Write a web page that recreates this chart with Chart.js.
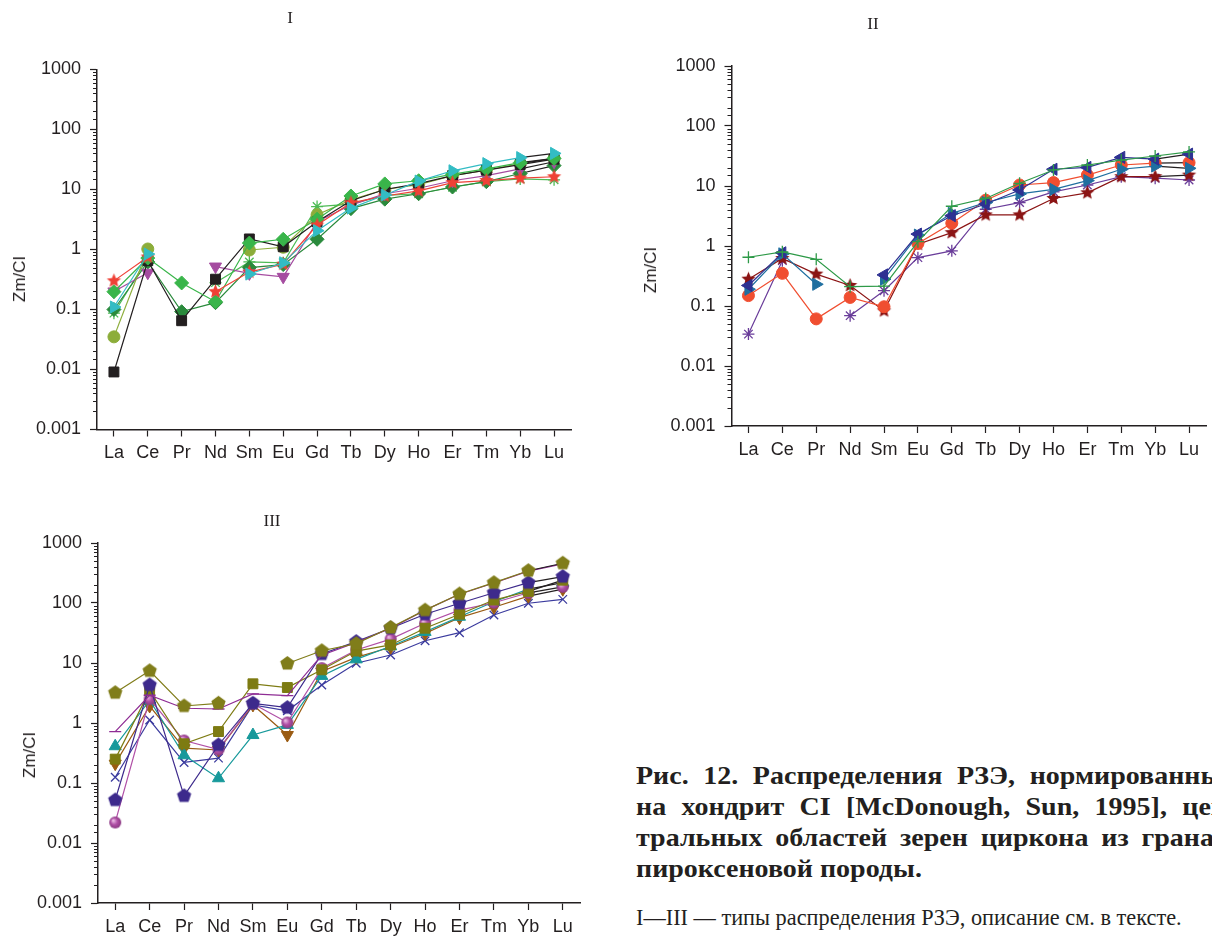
<!DOCTYPE html>
<html><head><meta charset="utf-8">
<script src="https://cdn.jsdelivr.net/npm/chart.js@4.4.1/dist/chart.umd.min.js"></script>
<style>
html,body{margin:0;padding:0;background:#fff;}
body{width:1212px;height:936px;position:relative;overflow:hidden;}
canvas{position:absolute;}
.t{position:absolute;font-family:"Liberation Serif","Times New Roman",serif;color:#231f20;white-space:nowrap;font-size:17px;transform:translate(-50%,-50%);}
.yl{position:absolute;font-family:"Liberation Sans",Arial,sans-serif;font-size:17px;color:#231f20;white-space:nowrap;transform:translate(-50%,-50%) rotate(-90deg);}
.cap{position:absolute;left:636px;width:536px;font-family:"Liberation Serif","Times New Roman",serif;font-weight:bold;font-size:25px;line-height:31px;color:#231f20;white-space:nowrap;transform:scaleX(1.12);transform-origin:0 0;}
.j{text-align:justify;text-align-last:justify;}
.note{position:absolute;left:636px;top:906px;font-family:"Liberation Serif","Times New Roman",serif;font-size:22.3px;line-height:24px;color:#231f20;white-space:nowrap;}
</style></head><body>
<canvas id="c1" width="600" height="480" style="left:0;top:0"></canvas>
<canvas id="c2" width="592" height="480" style="left:620px;top:0"></canvas>
<canvas id="c3" width="600" height="446" style="left:0;top:490px"></canvas>

<div class="t" style="left:290px;top:18px">I</div>
<div class="t" style="left:873px;top:24px">II</div>
<div class="t" style="left:272px;top:521px">III</div>
<div class="yl" style="left:20px;top:279px">Zm/CI</div>
<div class="yl" style="left:651px;top:270px">Zm/CI</div>
<div class="yl" style="left:30px;top:755px">Zm/CI</div>

<div class="cap j" style="top:760px">Рис. 12. Распределения РЗЭ, нормированных</div>
<div class="cap j" style="top:791px">на хондрит CI [McDonough, Sun, 1995], цен-</div>
<div class="cap j" style="top:822px">тральных областей зерен циркона из гранат-</div>
<div class="cap" style="top:853px">пироксеновой породы.</div>
<div class="note">I—III — типы распределения РЗЭ, описание см. в тексте.</div>

<script>
const elements = ['La','Ce','Pr','Nd','Sm','Eu','Gd','Tb','Dy','Ho','Er','Tm','Yb','Lu'];
const yTickLabels = ['0.001','0.01','0.1','1','10','100','1000'];

// Panel I
const I_black        = [0.0091,0.65,0.065,0.32,1.5,1.11,2.9,6.5,10,12.5,17,21,26,32];
const I_redStar      = [0.30,0.75,null,0.198,0.42,0.57,2.56,6.0,7.8,9.5,13,14.1,15.5,16.3];
const I_greenDiamond = [0.198,0.72,0.277,0.135,1.28,1.48,3.2,7.8,12.4,14,18,22,28,33];
const I_darkDiamond  = [0.1,0.62,0.092,0.13,0.5,0.56,1.48,4.8,6.9,8.5,11,13.5,18.5,25];
const I_oliveCircle  = [0.035,1.02,null,null,0.98,1.09,3.8,6.7,10,12,17,21,27,33];
const I_purpleTri    = [0.2,0.41,null,0.52,0.4,0.35,2.9,5.5,8.5,10.5,14,17,22,29];
const I_cyanTri      = [0.11,0.84,null,null,0.39,0.6,2.06,4.9,8.1,13.8,20.5,27,34,40];
const I_asterisk     = [0.087,0.72,null,0.28,0.62,0.6,5.2,5.7,8,8.5,10.9,13.5,15,14.5];

// Panel II
const II_greenPlus   = [0.65,0.80,0.60,0.21,0.215,1.18,4.6,6.2,11.1,18.5,22.4,27,31.6,37];
const II_redCircle   = [0.149,0.35,0.061,0.139,0.097,1.1,2.4,5.8,10.4,11.4,15.2,22.4,24,24.5];
const II_darkRedStar = [0.28,0.62,0.34,0.22,0.083,1.07,1.67,3.3,3.3,6.2,7.7,14.3,14.3,15.2];
const II_purpleAst   = [0.034,0.57,null,0.069,0.18,0.64,0.83,4.1,5.3,8.0,10.4,14.3,13.5,12.6];
const II_tealTri     = [0.19,0.74,0.23,null,0.28,1.52,3.5,5.3,7.4,8.8,12.3,19,21.5,19.7];
const II_navyTri     = [0.22,0.77,null,null,0.33,1.58,3.2,5.0,8.6,19,20.4,30,28,34];

// Panel III
const III_olivePent  = [3.2,7.4,1.92,2.13,null,9.8,16,21,39,76,141,218,345,460];
const III_purpleLine = [0.72,2.9,1.76,1.71,3.05,2.85,13.5,22,38,76,140,215,340,450];
const III_navyPent   = [0.052,4.3,0.061,0.43,2.13,1.8,14.1,22.7,38,65,99,148,218,275];
const III_oliveSq    = [0.25,3.45,0.45,0.72,4.5,3.9,7.7,15.8,20,38,65,112,156,240];
const III_pinkCircle = [0.022,2.5,0.51,0.36,2.1,1.02,8.2,16.5,25,46,76,101,148,186];
const III_tealTri    = [0.41,2.4,0.29,0.12,0.63,0.93,6.1,11.5,19,33,59,105,170,218];
const III_brownTri   = [0.21,1.92,0.38,0.355,2.0,0.63,7.2,12.4,18.3,31,57,85,130,170];
const III_blueX      = [0.125,1.12,0.22,0.26,2.0,1.6,4.3,9.9,13.6,23.5,32,63,99,115];

const INK = '#231f20';
const FONT = '"Liberation Sans", Arial, sans-serif';

function polyImg(color, r, n, inner, rot) {
  const s = Math.ceil(2*r+2);
  const c = document.createElement('canvas'); c.width = s; c.height = s;
  const g = c.getContext('2d');
  g.fillStyle = color; g.beginPath();
  const pts = inner ? n*2 : n;
  for (let i=0;i<pts;i++){
    const rr = inner ? (i%2===0 ? r : r*inner) : r;
    const a = -Math.PI/2 + (rot||0) + i*2*Math.PI/pts;
    const x = s/2 + rr*Math.cos(a), y = s/2 + rr*Math.sin(a);
    i===0 ? g.moveTo(x,y) : g.lineTo(x,y);
  }
  g.closePath(); g.fill();
  return c;
}
function sphereImg(color, r) {
  const s = Math.ceil(2*r+2);
  const c = document.createElement('canvas'); c.width = s; c.height = s;
  const g = c.getContext('2d');
  const gr = g.createRadialGradient(s/2-r*0.35, s/2-r*0.35, r*0.1, s/2, s/2, r);
  gr.addColorStop(0,'#e9b8e2'); gr.addColorStop(0.5,color); gr.addColorStop(1,'#8a3a82');
  g.fillStyle = gr; g.beginPath(); g.arc(s/2,s/2,r,0,Math.PI*2); g.fill();
  return c;
}

function ds(data, color, style, o) {
  o = o || {};
  const d = {
    data, borderColor: color, backgroundColor: color,
    pointStyle: style, pointRadius: o.r || 6, pointHoverRadius: o.r || 6,
    pointBorderWidth: o.pbw || 1, borderWidth: 1.2, pointRotation: o.rot || 0,
    spanGaps: false, tension: 0, fill: false
  };
  if (o.blackEnd) d.segment = { borderColor: ctx => ctx.p1DataIndex === 13 ? INK : undefined };
  return d;
}

function isMajor(v){ const l = Math.log10(v); return Math.abs(l - Math.round(l)) < 1e-6; }

const minorTicks = {
  id: 'minorTicks',
  afterDraw(chart) {
    const s = chart.scales.y, ctx = chart.ctx;
    ctx.save(); ctx.strokeStyle = INK; ctx.lineWidth = 1;
    s.ticks.forEach(t => {
      if (!isMajor(t.value)) {
        const y = Math.round(s.getPixelForValue(t.value)) + 0.5;
        ctx.beginPath(); ctx.moveTo(s.right - 4, y); ctx.lineTo(s.right, y); ctx.stroke();
      }
    });
    ctx.restore();
  }
};

function makeChart(id, datasets, A) {
  new Chart(document.getElementById(id), {
    type: 'line',
    data: { labels: elements, datasets },
    plugins: [minorTicks],
    options: {
      responsive: false, animation: false, devicePixelRatio: 1,
      layout: { autoPadding: false, padding: { top: A.T, right: A.R, left: 0, bottom: 0 } },
      plugins: { legend: { display: false }, tooltip: { enabled: false }, title: { display: false } },
      scales: {
        x: {
          type: 'category', offset: true,
          grid: { display: true, drawOnChartArea: false, drawTicks: true, tickLength: 7, tickWidth: 1.2, tickColor: INK, offset: false },
          border: { display: true, color: INK, width: 1.5 },
          ticks: { font: { family: FONT, size: 18 }, color: INK, padding: 6, maxRotation: 0, autoSkip: false },
          afterFit: s => { s.height = A.Hx; }
        },
        y: {
          type: 'logarithmic', min: 0.001, max: 1000,
          grid: { display: true, drawOnChartArea: false, drawTicks: true, tickLength: 7, tickWidth: 1.2,
                  tickColor: c => (c.tick && isMajor(c.tick.value)) ? INK : 'rgba(0,0,0,0)' },
          border: { display: true, color: INK, width: 1.5 },
          ticks: { autoSkip: false, font: { family: FONT, size: 18 }, color: INK, padding: 9,
                   callback: v => isMajor(v) ? yTickLabels[Math.round(Math.log10(v)) + 3] : '' },
          afterFit: s => { s.width = A.Wy; }
        }
      }
    }
  });
}

// Panel I
makeChart('c1', [
  ds(I_cyanTri, '#33bcc4', 'triangle', { r: 7, rot: 90, blackEnd: true }),
  ds(I_redStar, '#ef4136', polyImg('#ef4136', 7.5, 5, 0.45), { r: 7 }),
  ds(I_greenDiamond, '#39b54a', 'rectRot', { r: 7, blackEnd: true }),
  ds(I_black, INK, 'rect', { r: 7, blackEnd: true }),
  ds(I_oliveCircle, '#8cad3a', 'circle', { r: 6, blackEnd: true }),
  ds(I_purpleTri, '#a54ca0', 'triangle', { r: 7, rot: 180, blackEnd: true }),
  ds(I_darkDiamond, '#2a8a3c', 'rectRot', { r: 7, blackEnd: true }),
  ds(I_asterisk, '#4dbb55', 'star', { r: 6, pbw: 1.3 })
], { Wy: 97, T: 69.5, R: 29, Hx: 50.5 });

// Panel II
makeChart('c2', [
  ds(II_greenPlus, '#2e9a48', 'cross', { r: 6, pbw: 1.3 }),
  ds(II_navyTri, '#2e3192', 'triangle', { r: 7, rot: -90, blackEnd: true }),
  ds(II_tealTri, '#1f6fa0', 'triangle', { r: 7, rot: 90, blackEnd: true }),
  ds(II_redCircle, '#f04e30', 'circle', { r: 6, blackEnd: true }),
  ds(II_darkRedStar, '#8b1414', polyImg('#8b1414', 7.5, 5, 0.45), { r: 7, blackEnd: true }),
  ds(II_purpleAst, '#6a3d9a', 'star', { r: 6, pbw: 1.3 })
], { Wy: 111.5, T: 66, R: 6, Hx: 54 });

// Panel III
makeChart('c3', [
  ds(III_olivePent, '#807d1a', polyImg('#807d1a', 7.5, 5), { r: 7, blackEnd: true }),
  ds(III_purpleLine, '#8e2c94', 'line', { r: 6, pbw: 1.3 }),
  ds(III_navyPent, '#3d2a8c', polyImg('#3d2a8c', 7.5, 5), { r: 7, blackEnd: true }),
  ds(III_oliveSq, '#7d7b12', 'rect', { r: 7, blackEnd: true }),
  ds(III_pinkCircle, '#b04fa6', sphereImg('#b04fa6', 6), { r: 6, blackEnd: true }),
  ds(III_tealTri, '#17999b', 'triangle', { r: 7, blackEnd: true }),
  ds(III_brownTri, '#9a5b12', 'triangle', { r: 7, rot: 180, blackEnd: true }),
  ds(III_blueX, '#3b3b9e', 'crossRot', { r: 6, pbw: 1.3 })
], { Wy: 98, T: 53, R: 20, Hx: 33 });
</script>
</body></html>
